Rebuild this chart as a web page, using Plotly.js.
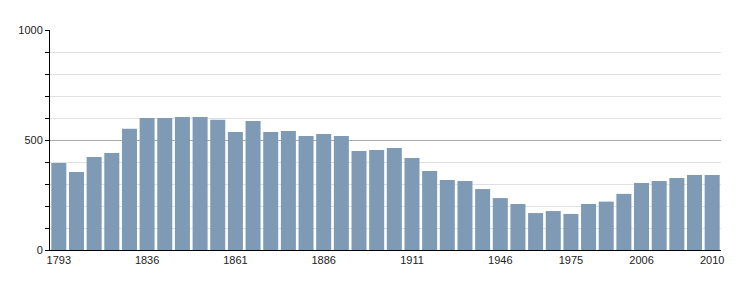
<!DOCTYPE html>
<html>
<head>
<meta charset="utf-8">
<script src="https://cdn.plot.ly/plotly-3.0.1.min.js"></script>
<style>html,body{margin:0;padding:0;background:#fff;}#chart{width:750px;height:300px;}</style>
</head>
<body>
<div id="chart"></div>
<script>
const years = ["1793","1800","1806","1821","1831","1836","1841","1846","1851","1856","1861","1866","1872","1876","1881","1886","1891","1896","1901","1906","1911","1921","1926","1931","1936","1946","1954","1962","1968","1975","1982","1990","1999","2006","2007","2008","2009","2010"];
const population = [395,355,423,441,551,600,600,605,605,592,536,586,536,541,518,527,518,450,455,464,418,359,318,314,277,236,209,168,177,164,209,220,255,305,314,327,341,341];
const shownTicks = ["1793","1836","1861","1886","1911","1946","1975","2006","2010"];

const trace = {
  type: 'bar',
  x: years,
  y: population,
  marker: {color: '#7f9ab5'},
  hoverinfo: 'x+y'
};

const layout = {
  width: 750, height: 300,
  margin: {l: 50, r: 29, t: 30, b: 50},
  paper_bgcolor: '#fff', plot_bgcolor: '#fff',
  bargap: 0.15,
  showlegend: false,
  font: {family: '"Liberation Sans", Arial, sans-serif', size: 11, color: '#222'},
  xaxis: {
    type: 'category',
    range: [-0.5, years.length - 0.5],
    tickmode: 'array',
    tickvals: shownTicks,
    ticktext: shownTicks,
    ticks: '',
    showgrid: false,
    showline: true,
    linecolor: '#000',
    linewidth: 1,
    tickfont: {size: 11, color: '#222'},
    fixedrange: true
  },
  yaxis: {
    range: [0, 1000],
    tickmode: 'linear',
    tick0: 0,
    dtick: 500,
    ticks: 'outside',
    ticklen: 4,
    tickcolor: '#000',
    showline: true,
    linecolor: '#000',
    linewidth: 1,
    showgrid: true,
    gridcolor: '#aaaaaa',
    zeroline: false,
    tickfont: {size: 11, color: '#222'},
    minor: {
      dtick: 100,
      ticks: 'outside',
      ticklen: 4,
      tickcolor: '#000',
      showgrid: true,
      gridcolor: '#e0e0e0'
    },
    fixedrange: true
  }
};

Plotly.newPlot('chart', [trace], layout, {displayModeBar: false, staticPlot: true});
</script>
</body>
</html>
